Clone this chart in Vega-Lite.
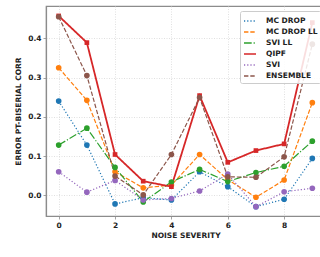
{
  "$schema": "https://vega.github.io/schema/vega-lite/v6.json",
  "autosize": {"type": "none"},
  "padding": {"left": 46, "top": 6, "right": 0, "bottom": 41},
  "width": 279,
  "height": 210,
  "background": "white",
  "config": {
    "font": "DejaVu Sans",
    "view": {"stroke": "#8c8c8c", "strokeWidth": 1.2},
    "axis": {
      "labelFont": "DejaVu Sans", "labelFontWeight": "bold", "labelFontSize": 7.5, "labelColor": "#222",
      "titleFont": "DejaVu Sans", "titleFontWeight": "bold", "titleFontSize": 7.5, "titleColor": "#222",
      "domainColor": "#8c8c8c", "domainWidth": 1.2,
      "tickColor": "#8c8c8c", "tickSize": 3, "tickWidth": 0.8,
      "gridColor": "#d8d8d8", "gridDash": [1, 1.5], "gridWidth": 0.8
    },
    "legend": {
      "labelFont": "DejaVu Sans", "labelFontWeight": "bold", "labelFontSize": 7.5, "labelColor": "#222",
      "strokeColor": "#cccccc", "fillColor": "rgba(255,255,255,0.85)", "padding": 3, "cornerRadius": 2
    }
  },
  "data": {
    "values": [
      {"method": "MC DROP", "severity": 0, "corr": 0.240},
      {"method": "MC DROP", "severity": 1, "corr": 0.128},
      {"method": "MC DROP", "severity": 2, "corr": -0.022},
      {"method": "MC DROP", "severity": 3, "corr": -0.006},
      {"method": "MC DROP", "severity": 4, "corr": -0.012},
      {"method": "MC DROP", "severity": 5, "corr": 0.060},
      {"method": "MC DROP", "severity": 6, "corr": 0.022},
      {"method": "MC DROP", "severity": 7, "corr": -0.029},
      {"method": "MC DROP", "severity": 8, "corr": -0.010},
      {"method": "MC DROP", "severity": 9, "corr": 0.094},
      {"method": "MC DROP LL", "severity": 0, "corr": 0.325},
      {"method": "MC DROP LL", "severity": 1, "corr": 0.242},
      {"method": "MC DROP LL", "severity": 2, "corr": 0.060},
      {"method": "MC DROP LL", "severity": 3, "corr": 0.019},
      {"method": "MC DROP LL", "severity": 4, "corr": 0.026},
      {"method": "MC DROP LL", "severity": 5, "corr": 0.104},
      {"method": "MC DROP LL", "severity": 6, "corr": 0.040},
      {"method": "MC DROP LL", "severity": 7, "corr": -0.005},
      {"method": "MC DROP LL", "severity": 8, "corr": 0.039},
      {"method": "MC DROP LL", "severity": 9, "corr": 0.236},
      {"method": "SVI LL", "severity": 0, "corr": 0.128},
      {"method": "SVI LL", "severity": 1, "corr": 0.171},
      {"method": "SVI LL", "severity": 2, "corr": 0.071},
      {"method": "SVI LL", "severity": 3, "corr": -0.017},
      {"method": "SVI LL", "severity": 4, "corr": 0.034},
      {"method": "SVI LL", "severity": 5, "corr": 0.066},
      {"method": "SVI LL", "severity": 6, "corr": 0.035},
      {"method": "SVI LL", "severity": 7, "corr": 0.058},
      {"method": "SVI LL", "severity": 8, "corr": 0.074},
      {"method": "SVI LL", "severity": 9, "corr": 0.138},
      {"method": "QIPF", "severity": 0, "corr": 0.457},
      {"method": "QIPF", "severity": 1, "corr": 0.389},
      {"method": "QIPF", "severity": 2, "corr": 0.104},
      {"method": "QIPF", "severity": 3, "corr": 0.036},
      {"method": "QIPF", "severity": 4, "corr": 0.022},
      {"method": "QIPF", "severity": 5, "corr": 0.254},
      {"method": "QIPF", "severity": 6, "corr": 0.084},
      {"method": "QIPF", "severity": 7, "corr": 0.114},
      {"method": "QIPF", "severity": 8, "corr": 0.131},
      {"method": "QIPF", "severity": 9, "corr": 0.440},
      {"method": "SVI", "severity": 0, "corr": 0.060},
      {"method": "SVI", "severity": 1, "corr": 0.008},
      {"method": "SVI", "severity": 2, "corr": 0.038},
      {"method": "SVI", "severity": 3, "corr": -0.012},
      {"method": "SVI", "severity": 4, "corr": -0.008},
      {"method": "SVI", "severity": 5, "corr": 0.011},
      {"method": "SVI", "severity": 6, "corr": 0.054},
      {"method": "SVI", "severity": 7, "corr": -0.029},
      {"method": "SVI", "severity": 8, "corr": 0.009},
      {"method": "SVI", "severity": 9, "corr": 0.018},
      {"method": "ENSEMBLE", "severity": 0, "corr": 0.455},
      {"method": "ENSEMBLE", "severity": 1, "corr": 0.305},
      {"method": "ENSEMBLE", "severity": 2, "corr": 0.049},
      {"method": "ENSEMBLE", "severity": 3, "corr": 0.001},
      {"method": "ENSEMBLE", "severity": 4, "corr": 0.104},
      {"method": "ENSEMBLE", "severity": 5, "corr": 0.249},
      {"method": "ENSEMBLE", "severity": 6, "corr": 0.047},
      {"method": "ENSEMBLE", "severity": 7, "corr": 0.046},
      {"method": "ENSEMBLE", "severity": 8, "corr": 0.098},
      {"method": "ENSEMBLE", "severity": 9, "corr": 0.385}
    ]
  },
  "encoding": {
    "x": {
      "field": "severity", "type": "quantitative",
      "scale": {"domain": [-0.45, 9.45], "nice": false, "zero": false},
      "axis": {"values": [0, 2, 4, 6, 8], "title": "NOISE SEVERITY", "labelPadding": 2, "titlePadding": 3}
    },
    "y": {
      "field": "corr", "type": "quantitative",
      "scale": {"domain": [-0.0527, 0.4823], "nice": false, "zero": false},
      "axis": {"values": [0, 0.1, 0.2, 0.3, 0.4], "format": ".1f", "title": "ERROR PT-BISERIAL CORR", "labelPadding": 2, "titlePadding": 5}
    }
  },
  "layer": [
    {
      "mark": {"type": "line", "clip": true},
      "encoding": {
        "color": {
          "field": "method", "type": "nominal",
          "scale": {
            "domain": ["MC DROP", "MC DROP LL", "SVI LL", "QIPF", "SVI", "ENSEMBLE"],
            "range": ["#1f77b4", "#ff7f0e", "#2ca02c", "#d62728", "#9467bd", "#8c564b"]
          },
          "legend": {
            "title": null, "orient": "none", "legendX": 194, "legendY": 5,
            "symbolType": "stroke", "symbolSize": 144, "symbolStrokeWidth": 1.3,
            "rowPadding": 0, "labelOffset": 9, "padding": 3,
            "fillColor": "rgba(255,255,255,0.85)", "strokeColor": "#cccccc", "cornerRadius": 2
          }
        },
        "strokeDash": {
          "field": "method", "type": "nominal",
          "scale": {
            "domain": ["MC DROP", "MC DROP LL", "SVI LL", "QIPF", "SVI", "ENSEMBLE"],
            "range": [[1.2, 2], [4.4, 1.9], [7.7, 1.9, 1.2, 1.9], [1, 0], [1.2, 2], [4.4, 1.9]]
          },
          "legend": {
            "title": null, "orient": "none", "legendX": 194, "legendY": 5,
            "symbolType": "stroke", "symbolSize": 144, "symbolStrokeWidth": 1.3,
            "rowPadding": 0, "labelOffset": 9, "padding": 3,
            "fillColor": "rgba(255,255,255,0.85)", "strokeColor": "#cccccc", "cornerRadius": 2
          }
        },
        "strokeWidth": {
          "condition": {"test": "datum.method === 'QIPF'", "value": 1.8},
          "value": 1.2
        }
      }
    },
    {
      "mark": {"type": "point", "filled": true, "opacity": 1, "clip": true},
      "encoding": {
        "color": {"field": "method", "type": "nominal", "legend": null},
        "shape": {
          "condition": {"test": "datum.method === 'QIPF'", "value": "square"},
          "value": "circle"
        },
        "size": {
          "condition": {"test": "datum.method === 'QIPF'", "value": 22},
          "value": 32
        }
      }
    }
  ]
}
